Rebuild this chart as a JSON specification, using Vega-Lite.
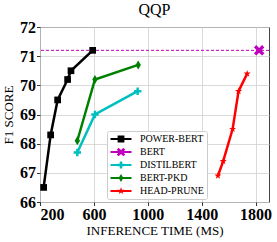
{
  "$schema": "https://vega.github.io/schema/vega-lite/v6.json",
  "width": 229,
  "height": 175,
  "autosize": {"type": "none"},
  "padding": {"left": 40, "top": 27, "right": 8, "bottom": 40},
  "view": {"stroke": "#444444", "strokeWidth": 1},
  "title": {"text": "QQP", "font": "Liberation Serif", "fontSize": 16, "fontWeight": "normal", "color": "#000000", "offset": 1, "anchor": "middle"},
  "data": {"values": [
    {"series": "PoWER-BERT", "time": 227, "f1": 66.5},
    {"series": "PoWER-BERT", "time": 279, "f1": 68.3},
    {"series": "PoWER-BERT", "time": 331, "f1": 69.5},
    {"series": "PoWER-BERT", "time": 405, "f1": 70.2},
    {"series": "PoWER-BERT", "time": 430, "f1": 70.5},
    {"series": "PoWER-BERT", "time": 591, "f1": 71.2},
    {"series": "BERT", "time": 1827, "f1": 71.2},
    {"series": "DistilBert", "time": 477, "f1": 67.7},
    {"series": "DistilBert", "time": 608, "f1": 69.0},
    {"series": "DistilBert", "time": 925, "f1": 69.8},
    {"series": "Bert-Pkd", "time": 477, "f1": 68.1},
    {"series": "Bert-Pkd", "time": 608, "f1": 70.2},
    {"series": "Bert-Pkd", "time": 929, "f1": 70.7},
    {"series": "Head-Prune", "time": 1521, "f1": 66.9},
    {"series": "Head-Prune", "time": 1560, "f1": 67.4},
    {"series": "Head-Prune", "time": 1630, "f1": 68.5},
    {"series": "Head-Prune", "time": 1674, "f1": 69.8},
    {"series": "Head-Prune", "time": 1738, "f1": 70.4}
  ]},
  "encoding": {
    "x": {"field": "time", "type": "quantitative",
      "scale": {"domain": [200, 1900], "nice": false, "zero": false},
      "axis": {"values": [200, 600, 1000, 1400, 1800], "format": "d", "title": "INFERENCE TIME (MS)", "titlePadding": 2,
        "domain": false, "labelFont": "Liberation Serif", "labelFontSize": 16, "labelFontWeight": "bold", "labelColor": "#000000",
        "labelPadding": 1, "tickColor": "#000000", "tickSize": 3.5, "tickWidth": 0.8,
        "gridColor": "#d0d0d0", "gridWidth": 0.8,
        "titleFont": "Liberation Serif", "titleFontSize": 13, "titleFontWeight": "normal", "titleColor": "#000000"}},
    "y": {"field": "f1", "type": "quantitative",
      "scale": {"domain": [66, 72], "nice": false, "zero": false},
      "axis": {"values": [66, 67, 68, 69, 70, 71, 72], "title": "F1 SCORE", "titlePadding": 4,
        "domain": false, "labelFont": "Liberation Serif", "labelFontSize": 16, "labelFontWeight": "bold", "labelColor": "#000000",
        "labelPadding": 1, "tickColor": "#000000", "tickSize": 3.5, "tickWidth": 0.8,
        "gridColor": "#d0d0d0", "gridWidth": 0.8,
        "titleFont": "Liberation Serif", "titleFontSize": 13, "titleFontWeight": "normal", "titleColor": "#000000"}}
  },
  "layer": [
    {
      "transform": [{"filter": "datum.series === 'BERT'"}],
      "mark": {"type": "rule", "color": "#bf00bf", "strokeWidth": 1, "strokeDash": [3, 2]},
      "encoding": {"x": null}
    },
    {
      "transform": [{"filter": "datum.series !== 'BERT'"}],
      "mark": {"type": "line", "strokeWidth": 2.5},
      "encoding": {
        "color": {"field": "series", "type": "nominal",
          "scale": {"domain": ["PoWER-BERT", "DistilBert", "Bert-Pkd", "Head-Prune"], "range": ["#000000", "#00bfbf", "#008000", "#ff0000"]},
          "legend": null}
      }
    },
    {
      "transform": [{"filter": "datum.series === 'PoWER-BERT'"}],
      "mark": {"type": "point", "shape": "square", "size": 45, "filled": true, "fill": "#000000", "opacity": 1, "strokeWidth": 0}
    },
    {
      "transform": [{"filter": "datum.series === 'BERT'"}],
      "mark": {"type": "point", "shape": "M0.55,-1L1,-0.55L0.45,0L1,0.55L0.55,1L0,0.45L-0.55,1L-1,0.55L-0.45,0L-1,-0.55L-0.55,-1L0,-0.45Z", "size": 110, "filled": true, "fill": "#bf00bf", "opacity": 1, "strokeWidth": 0}
    },
    {
      "transform": [{"filter": "datum.series === 'DistilBert'"}],
      "mark": {"type": "point", "shape": "M-0.33,-1H0.33V-0.33H1V0.33H0.33V1H-0.33V0.33H-1V-0.33H-0.33Z", "size": 56, "filled": true, "fill": "#00bfbf", "opacity": 1, "strokeWidth": 0}
    },
    {
      "transform": [{"filter": "datum.series === 'Bert-Pkd'"}],
      "mark": {"type": "point", "shape": "M0,-1L0.6,0L0,1L-0.6,0Z", "size": 81, "filled": true, "fill": "#008000", "opacity": 1, "strokeWidth": 0}
    },
    {
      "transform": [{"filter": "datum.series === 'Head-Prune'"}],
      "mark": {"type": "point", "shape": "M0,-1L0.235,-0.324L0.951,-0.309L0.38,0.124L0.588,0.809L0,0.4L-0.588,0.809L-0.38,0.124L-0.951,-0.309L-0.235,-0.324Z", "size": 55, "filled": true, "fill": "#ff0000", "opacity": 1, "strokeWidth": 0}
    },
    {
      "mark": {"type": "point", "filled": true, "opacity": 0, "strokeWidth": 0},
      "encoding": {
        "fill": {"field": "series", "type": "nominal",
          "scale": {"domain": ["PoWER-BERT", "BERT", "DistilBert", "Bert-Pkd", "Head-Prune"], "range": ["#000000", "#bf00bf", "#00bfbf", "#008000", "#ff0000"]},
          "legend": {"title": null, "orient": "none", "legendX": 67, "legendY": 104, "padding": 3,
            "fillColor": "#ffffff", "strokeColor": "#cccccc", "cornerRadius": 2,
            "symbolSize": 100, "symbolOpacity": 1, "symbolStrokeWidth": 0, "symbolOffset": 6,
            "labelFont": "Liberation Serif", "labelFontSize": 10, "labelColor": "#000000", "labelOffset": 14,
            "labelExpr": "upper(datum.label)", "rowPadding": 3}},
        "shape": {"field": "series", "type": "nominal",
          "scale": {"domain": ["PoWER-BERT", "BERT", "DistilBert", "Bert-Pkd", "Head-Prune"], "range": [
            "M-2.1,-0.22H2.1V0.22H-2.1Z M-0.68,-0.68H0.68V0.68H-0.68Z",
            "M-2.1,-0.22H2.1V0.22H-2.1Z M0.475,-0.861L0.861,-0.475L0.386,0L0.861,0.475L0.475,0.861L0,0.386L-0.475,0.861L-0.861,0.475L-0.386,0L-0.861,-0.475L-0.475,-0.861L0,-0.386Z",
            "M-2.1,-0.22H2.1V0.22H-2.1Z M-0.25,-0.7H0.25V-0.25H0.7V0.25H0.25V0.7H-0.25V0.25H-0.7V-0.25H-0.25Z",
            "M-2.1,-0.22H2.1V0.22H-2.1Z M0,-0.8L0.48,0L0,0.8L-0.48,0Z",
            "M-2.1,-0.22H2.1V0.22H-2.1Z M0,-0.756L0.185,-0.255L0.718,-0.233L0.3,0.097L0.445,0.611L0,0.315L-0.445,0.611L-0.3,0.097L-0.718,-0.233L-0.185,-0.255Z"
          ]},
          "legend": {"title": null, "orient": "none", "legendX": 67, "legendY": 104, "padding": 3,
            "fillColor": "#ffffff", "strokeColor": "#cccccc", "cornerRadius": 2,
            "symbolSize": 100, "symbolOpacity": 1, "symbolStrokeWidth": 0, "symbolOffset": 6,
            "labelFont": "Liberation Serif", "labelFontSize": 10, "labelColor": "#000000", "labelOffset": 14,
            "labelExpr": "upper(datum.label)", "rowPadding": 3}}
      }
    }
  ]
}
